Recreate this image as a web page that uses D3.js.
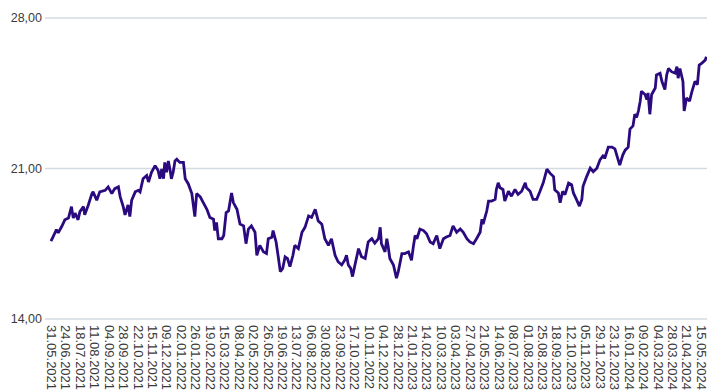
<!DOCTYPE html>
<html><head><meta charset="utf-8">
<script src="https://cdn.jsdelivr.net/npm/d3@7"></script>
<style>html,body{margin:0;padding:0;background:#fff;overflow:hidden}svg{display:block}</style>
</head><body>
<script>
const dates = ["2021-05-31","2021-06-04","2021-06-09","2021-06-12","2021-06-18","2021-06-23","2021-06-29","2021-07-04","2021-07-07","2021-07-10","2021-07-15","2021-07-18","2021-07-24","2021-07-26","2021-08-01","2021-08-07","2021-08-09","2021-08-15","2021-08-20","2021-08-29","2021-09-03","2021-09-09","2021-09-14","2021-09-20","2021-09-23","2021-09-28","2021-10-01","2021-10-06","2021-10-09","2021-10-12","2021-10-18","2021-10-23","2021-10-26","2021-10-31","2021-11-06","2021-11-09","2021-11-14","2021-11-20","2021-11-25","2021-11-28","2021-12-01","2021-12-04","2021-12-06","2021-12-09","2021-12-12","2021-12-15","2021-12-17","2021-12-20","2021-12-23","2021-12-26","2021-12-31","2022-01-06","2022-01-09","2022-01-14","2022-01-20","2022-01-25","2022-01-28","2022-02-03","2022-02-08","2022-02-14","2022-02-19","2022-02-25","2022-02-27","2022-03-02","2022-03-05","2022-03-11","2022-03-14","2022-03-18","2022-03-22","2022-03-27","2022-03-30","2022-04-05","2022-04-10","2022-04-16","2022-04-20","2022-04-24","2022-04-29","2022-05-05","2022-05-08","2022-05-13","2022-05-19","2022-05-24","2022-05-27","2022-06-02","2022-06-04","2022-06-09","2022-06-13","2022-06-16","2022-06-20","2022-06-24","2022-06-28","2022-07-02","2022-07-07","2022-07-10","2022-07-16","2022-07-22","2022-07-27","2022-08-02","2022-08-07","2022-08-13","2022-08-18","2022-08-24","2022-08-29","2022-09-04","2022-09-09","2022-09-15","2022-09-20","2022-09-26","2022-10-01","2022-10-04","2022-10-07","2022-10-11","2022-10-14","2022-10-18","2022-10-24","2022-10-29","2022-11-04","2022-11-09","2022-11-15","2022-11-20","2022-11-26","2022-11-29","2022-12-01","2022-12-07","2022-12-10","2022-12-12","2022-12-15","2022-12-21","2022-12-26","2022-12-29","2023-01-04","2023-01-09","2023-01-15","2023-01-20","2023-01-23","2023-01-26","2023-01-29","2023-02-03","2023-02-09","2023-02-14","2023-02-20","2023-02-25","2023-03-03","2023-03-08","2023-03-14","2023-03-19","2023-03-25","2023-03-30","2023-04-05","2023-04-11","2023-04-16","2023-04-22","2023-04-27","2023-05-03","2023-05-08","2023-05-14","2023-05-17","2023-05-19","2023-05-25","2023-05-28","2023-06-02","2023-06-08","2023-06-10","2023-06-13","2023-06-16","2023-06-21","2023-06-24","2023-06-30","2023-07-05","2023-07-11","2023-07-16","2023-07-22","2023-07-28","2023-07-30","2023-08-05","2023-08-10","2023-08-16","2023-08-21","2023-08-27","2023-09-02","2023-09-07","2023-09-13","2023-09-15","2023-09-21","2023-09-24","2023-09-28","2023-10-02","2023-10-08","2023-10-13","2023-10-16","2023-10-21","2023-10-26","2023-10-30","2023-11-01","2023-11-07","2023-11-13","2023-11-18","2023-11-24","2023-11-29","2023-12-05","2023-12-07","2023-12-13","2023-12-19","2023-12-24","2023-12-28","2024-01-01","2024-01-06","2024-01-10","2024-01-15","2024-01-18","2024-01-23","2024-01-26","2024-01-29","2024-02-01","2024-02-04","2024-02-06","2024-02-12","2024-02-15","2024-02-17","2024-02-20","2024-02-23","2024-02-29","2024-03-02","2024-03-08","2024-03-11","2024-03-16","2024-03-19","2024-03-22","2024-03-27","2024-04-02","2024-04-05","2024-04-07","2024-04-10","2024-04-15","2024-04-17","2024-04-21","2024-04-26","2024-04-30","2024-05-05","2024-05-09","2024-05-12","2024-05-16","2024-05-22","2024-05-24"];
const values = [17.60,17.83,18.13,17.98,18.29,18.59,18.67,19.20,18.67,18.90,18.59,18.97,19.20,18.82,19.28,19.81,19.89,19.50,19.89,19.96,20.12,19.81,20.04,20.12,19.66,19.20,18.82,19.28,18.74,19.50,19.89,19.96,19.89,20.50,20.65,20.35,20.80,21.11,20.88,20.50,20.95,20.50,21.26,20.80,21.33,20.88,20.50,20.80,21.33,21.41,21.26,21.26,20.50,20.27,19.81,18.74,19.81,19.66,19.39,19.08,18.70,18.62,18.09,18.47,17.71,17.71,17.86,18.93,19.00,19.84,19.39,19.08,18.39,18.31,17.48,18.16,18.31,18.01,16.94,17.40,17.10,17.02,17.71,17.78,18.09,17.56,16.79,16.18,16.33,16.87,16.79,16.41,16.94,17.40,17.25,18.01,18.24,18.77,18.70,19.08,18.54,18.39,17.71,17.40,17.71,16.94,16.64,16.49,16.71,16.94,16.49,16.33,15.95,16.49,17.25,16.87,16.79,17.56,17.71,17.50,17.71,18.24,17.48,17.10,17.71,17.40,16.79,16.49,15.88,16.18,17.02,17.02,17.10,16.71,17.33,17.86,17.71,18.16,18.09,17.94,17.56,17.48,17.86,17.25,17.71,17.79,17.86,18.31,18.01,18.16,18.01,17.71,17.56,17.48,17.71,18.01,18.62,18.39,19.00,19.46,19.46,19.54,20.00,20.31,20.08,20.00,19.46,19.92,19.69,20.00,19.77,19.92,20.31,20.08,19.92,19.54,19.54,19.88,20.32,20.95,20.76,20.60,19.99,19.84,19.38,19.91,19.76,20.30,20.22,19.84,19.54,19.23,19.54,20.15,20.60,20.99,20.83,20.99,21.37,21.60,21.44,21.97,21.97,21.89,21.51,21.13,21.60,21.83,21.97,22.81,22.96,23.50,23.35,23.65,24.11,24.57,24.42,24.19,24.49,23.50,24.42,24.72,25.33,25.41,25.03,24.65,25.33,25.63,25.48,25.41,25.71,25.18,25.63,25.03,23.65,24.26,24.11,24.57,25.03,24.88,25.79,25.87,26.02,26.17];
const yTicks = [14, 21, 28];
const xTickLabels = ["31.05.2021","24.06.2021","18.07.2021","11.08.2021","04.09.2021","28.09.2021","22.10.2021","15.11.2021","09.12.2021","02.01.2022","26.01.2022","19.02.2022","15.03.2022","08.04.2022","02.05.2022","26.05.2022","19.06.2022","13.07.2022","06.08.2022","30.08.2022","23.09.2022","17.10.2022","10.11.2022","04.12.2022","28.12.2022","21.01.2023","14.02.2023","10.03.2023","03.04.2023","27.04.2023","21.05.2023","14.06.2023","08.07.2023","01.08.2023","25.08.2023","18.09.2023","12.10.2023","05.11.2023","29.11.2023","23.12.2023","16.01.2024","09.02.2024","04.03.2024","28.03.2024","21.04.2024","15.05.2024"];

const W = 707, H = 391;
const parseISO = d3.timeParse("%Y-%m-%d");
const parseTick = d3.timeParse("%d.%m.%Y");
const fmtTick = d3.timeFormat("%d.%m.%Y");
const data = dates.map((d, i) => ({date: parseISO(d), value: values[i]}));
const tickDates = xTickLabels.map(parseTick);

const x = d3.scaleTime().domain([tickDates[0], tickDates[tickDates.length - 1]]).range([51, 701]);
const y = d3.scaleLinear().domain([14, 28]).range([318.5, 17.5]);

const svg = d3.select("body").append("svg").attr("width", W).attr("height", H)
  .style("font-family", "'DejaVu Sans', sans-serif");

const gy = svg.append("g").attr("transform", "translate(45,0)")
  .call(d3.axisLeft(y).tickValues(yTicks).tickSize(-(W - 45)).tickPadding(3)
    .tickFormat(v => v.toFixed(2).replace(".", ",")));
gy.select(".domain").remove();
gy.selectAll(".tick line").attr("stroke", "#d3dae2").attr("stroke-width", 1.6);
gy.selectAll(".tick text").attr("fill", "#3a3a3a").style("font-size", "12.5px");

const gx = svg.append("g").attr("transform", "translate(0,318.5)")
  .call(d3.axisBottom(x).tickValues(tickDates).tickSize(0).tickFormat(fmtTick));
gx.select(".domain").remove();
gx.selectAll(".tick text")
  .attr("fill", "#3a3a3a").style("font-size", "13px")
  .attr("transform", "rotate(90)")
  .attr("x", 6.5).attr("y", 0).attr("dy", "0.35em")
  .attr("text-anchor", "start");

const line = d3.line().x(d => x(d.date)).y(d => y(d.value));
svg.append("path").datum(data).attr("d", line)
  .attr("fill", "none").attr("stroke", "#2b0a80").attr("stroke-width", 2.8)
  .attr("stroke-linejoin", "miter").attr("stroke-miterlimit", 2);
</script>
</body></html>
